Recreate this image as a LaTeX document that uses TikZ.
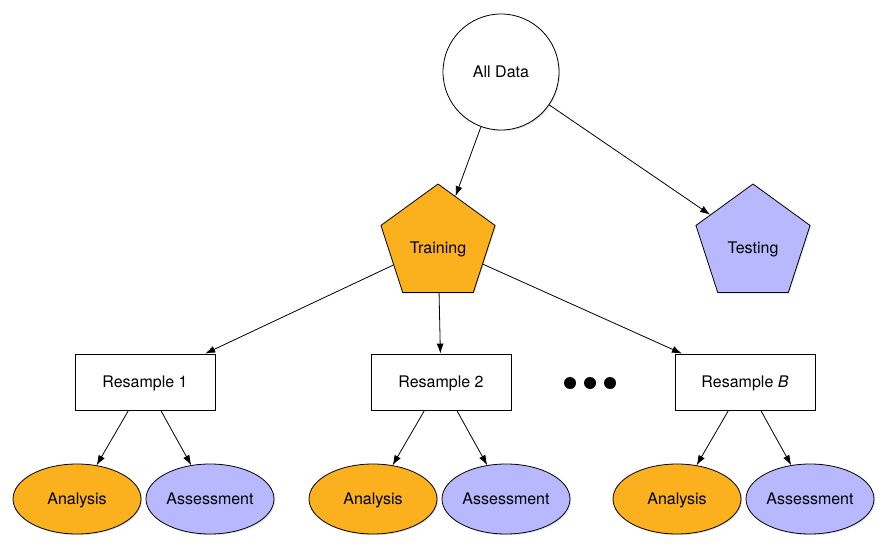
\documentclass[tikz,border=0pt]{standalone}
\usepackage{fontspec}
\setmainfont{TeX Gyre Heros}
\usetikzlibrary{shapes.geometric,shadows,arrows.meta}

\definecolor{trainorange}{RGB}{251,176,30}
\definecolor{testblue}{RGB}{184,184,255}

\begin{document}
\begin{tikzpicture}[x = 1pt, y = -1pt, > = {Latex[length = 10pt, width = 7pt]},
	line width = 0.8pt,
	font = \fontsize{16}{19}\selectfont, text height = 11.5pt, text depth = 0pt,
	softshadow/.style = {drop shadow = {opacity = 0.25, shadow xshift = 1pt, shadow yshift = -1.2pt}},
	alldata/.style = {circle, draw, fill = white, inner sep = 0pt, minimum size = 116pt, softshadow},
	split/.style = {regular polygon, regular polygon sides = 5, draw, inner sep = 0pt, minimum size = 120pt, text height = 19.5pt, softshadow},
	resample/.style = {rectangle, draw, fill = white, minimum width = 140pt, minimum height = 56pt, softshadow},
	part/.style = {ellipse, draw, inner sep = 0pt, minimum width = 128pt, minimum height = 70pt, softshadow},
	link/.style = {->}]

	% Frame

	\useasboundingbox (0, 0) rectangle (891, 548);

	% Initial split

	\node [alldata] (all) at (501, 72) {All Data};
	\node [split, fill = trainorange] (train) at (438, 244) {Training};
	\node [split, fill = testblue] (test) at (753, 244) {Testing};

	\draw [link] (all) -- (train);
	\draw [link] (all) -- (test);

	% Resamples with their analysis and assessment sets

	\foreach \X / \N / \L in {145/1/1, 441/2/2, 745/3/\textit{B}} {
		\node [resample] (res\N) at (\X, 382) {Resample \L};
		\node [part, fill = trainorange] (ana\N) at ({\X - 68}, 499) {Analysis};
		\node [part, fill = testblue] (ass\N) at ({\X + 65}, 499) {Assessment};
		\draw [link] (train) -- (res\N);
		\draw [link] (res\N) -- (ana\N);
		\draw [link] (res\N) -- (ass\N);
	}

	% Ellipsis between resamples

	\foreach \X in {570, 590, 610}
		\fill (\X, 383) circle (6pt);

\end{tikzpicture}
\end{document}
